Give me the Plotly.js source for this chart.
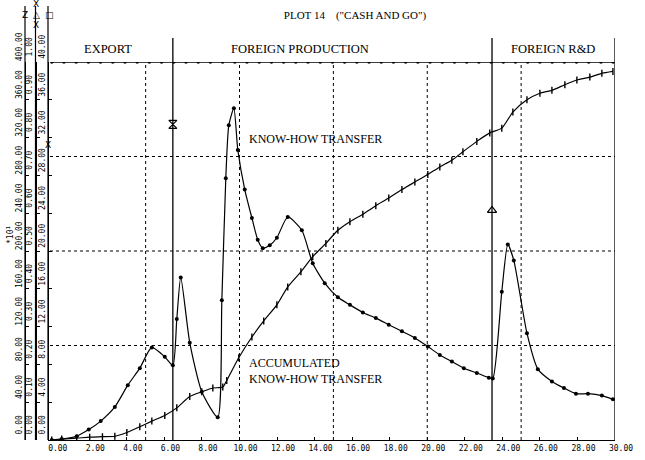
<!DOCTYPE html>
<html>
<head>
<meta charset="utf-8">
<script src="https://cdn.plot.ly/plotly-3.0.1.min.js"></script>
<style>html,body{margin:0;padding:0;background:#fff;}#chart{width:645px;height:460px;}</style>
</head>
<body>
<div id="chart"></div>
<script>
// ---- data ----
// Know-how transfer (left 0..400 scale)
const knowX = [0,0.53,1.33,1.97,2.61,3.36,4.05,4.69,5.33,6.02,6.45,6.66,6.87,7.35,7.99,8.84,9.06,9.27,9.43,9.70,9.91,10.28,10.66,10.97,11.24,11.61,11.99,12.57,13.32,13.9,14.54,15.24,15.88,16.57,17.26,17.95,18.65,19.34,20.03,20.67,21.31,21.95,22.64,23.28,23.49,23.97,24.29,24.61,25.31,25.89,26.64,27.28,27.92,28.56,29.30,29.89];
const knowY = [0,1,4,11,20,35,58,76,98,88,79,128,172,103,51,24,148,277,333,351,307,265,235,212,203,206,214,236,222,187,166,151,143,135,129,122,115,108,99,90,83,76,71,66,65,157,207,190,113,75,62,55,49,49,47,43];
// Accumulated know-how transfer (0..40 scale, x10^1)
const accX = [0,0.53,1.33,2.02,2.7,3.36,4.0,4.69,5.33,6.02,6.66,7.35,7.99,8.58,9.11,9.32,9.96,10.66,11.29,11.99,12.57,13.27,13.9,14.6,15.24,15.88,16.57,17.26,17.95,18.65,19.34,20.03,20.67,21.31,21.9,22.64,23.33,23.97,24.56,25.31,26.0,26.64,27.33,27.97,28.66,29.3,29.89];
const accY = [0,0.1,0.2,0.3,0.35,0.4,0.8,1.4,2.0,2.6,3.4,4.6,5.1,5.5,5.6,6.3,8.7,10.9,12.6,14.3,16.2,17.8,19.4,20.8,22.2,23.1,23.9,24.8,25.6,26.5,27.3,28.1,28.9,29.6,30.5,31.6,32.5,33.0,34.7,36.0,36.7,37.0,37.6,38.1,38.4,38.8,39.0];
// Constant top series (0..1 scale)
const topX = [0,0.65,1.3,1.95,2.6,3.25,3.9,4.55,5.2,5.85,6.5,7.15,7.8,8.45,9.1,9.75,10.4,11.05,11.7,12.35,13.0,13.65,14.3,14.95,15.6,16.25,16.9,17.55,18.2,18.85,19.5,20.15,20.8,21.45,22.1,22.75,23.4,24.05,24.7,25.35,26.0,26.65,27.3,27.95,28.6,29.25,29.9];
const topY = topX.map(() => 1.0);
// Event markers (0..400 scale)
const eventX = [6.45, 23.45];
const eventY = [334, 243];
// Phases
const phaseNames = ["EXPORT", "FOREIGN PRODUCTION", "FOREIGN R&D"];
const phaseCenters = [3.0, 13.2, 26.7];
const phaseBounds = [6.45, 23.45, 30];
// Grid positions
const gridX = [5, 10, 15, 20, 25];
const gridY = [100, 200, 300];

const PW = 615; // paper width in px (margin l=0, r=30)
const px = v => v / PW;
const py = v => (440 - v) / 378;

const tickFont = {family: "DejaVu Sans Mono", size: 8, color: "#000"};
const serif = "Liberation Serif";

const traces = [
  {x: topX, y: topY, yaxis: "y2", mode: "lines+markers", line: {color: "#000", width: 1.6},
   marker: {symbol: "circle", size: 3.5, color: "#000"}, hoverinfo: "skip"},
  {x: accX, y: accY, yaxis: "y", mode: "lines+markers", line: {color: "#000", width: 1.2, shape: "spline", smoothing: 0.6},
   marker: {symbol: "line-ns-open", size: 5, line: {color: "#000", width: 1.4}}},
  {x: knowX, y: knowY, yaxis: "y3", mode: "lines+markers", line: {color: "#000", width: 1.2, shape: "spline", smoothing: 0.6},
   marker: {symbol: "circle", size: 4, color: "#000"}},
  {x: eventX, y: eventY, yaxis: "y3", mode: "markers",
   marker: {symbol: ["hourglass-open", "triangle-up-open"], size: 8, line: {color: "#000", width: 1.2}, color: "#000"}}
];

const shapes = [];
gridX.forEach(g => shapes.push({type: "line", xref: "x", yref: "paper", x0: g, x1: g, y0: 0, y1: 1,
  line: {color: "#000", width: 1, dash: "dot"}}));
gridY.forEach(g => shapes.push({type: "line", xref: "paper", yref: "y3", x0: px(50), x1: px(615), y0: g, y1: g,
  line: {color: "#000", width: 1, dash: "dot"}}));
phaseBounds.forEach(b => shapes.push({type: "line", xref: "x", yref: "paper", x0: b, x1: b, y0: 0, y1: py(38),
  line: {color: "#000", width: 1.3}}));
[25, 35.5, 48].forEach(a => shapes.push({type: "line", xref: "paper", yref: "paper", x0: px(a), x1: px(a), y0: 0, y1: py(6),
  line: {color: "#000", width: 1.2}}));

const annotations = [];
phaseNames.forEach((n, i) => annotations.push({xref: "x", yref: "paper", x: phaseCenters[i], y: py(49),
  xanchor: "center", yanchor: "middle", text: n,
  showarrow: false, font: {family: serif, size: 12.5, color: "#000"}}));
annotations.push({xref: "paper", yref: "paper", x: px(247), y: py(139), text: "KNOW-HOW TRANSFER",
  xanchor: "left", yanchor: "middle",
  showarrow: false, font: {family: serif, size: 12, color: "#000"}});
annotations.push({xref: "paper", yref: "paper", x: px(247), y: py(371), text: "ACCUMULATED<br>KNOW-HOW TRANSFER",
  xanchor: "left", yanchor: "middle", align: "left",
  showarrow: false, font: {family: serif, size: 12, color: "#000"}});
annotations.push({xref: "paper", yref: "paper", x: px(10), y: py(235), text: "*10<sup>1</sup>", textangle: -90,
  xanchor: "center", yanchor: "middle",
  showarrow: false, font: {family: "DejaVu Sans Mono", size: 8, color: "#000"}});
[["Z", 25, 15], ["X", 36, 4], ["△", 36, 15], ["X", 36, 25], ["□", 49, 15], ["X", 48, 145]].forEach(s =>
  annotations.push({xref: "paper", yref: "paper", x: px(s[1]), y: py(s[2]), text: s[0], showarrow: false,
    xanchor: "center", yanchor: "middle",
    font: {family: "DejaVu Sans", size: 9, color: "#000"}}));

const yCommon = {showgrid: false, zeroline: false, showline: true, linecolor: "#000", linewidth: 1.2,
  ticks: "inside", ticklen: 3, tickcolor: "#000", tickangle: -90, tickfont: tickFont, tickformat: ".2f", ticklabelshift: -14};

const layout = {
  width: 645, height: 460,
  margin: {l: 0, r: 30, t: 62, b: 20},
  paper_bgcolor: "#fff", plot_bgcolor: "#fff",
  showlegend: false,
  title: {text: "PLOT 14&nbsp;&nbsp;&nbsp;&nbsp;(\"CASH AND GO\")", x: 355 / 645, xanchor: "center", y: 1 - 15 / 460, yanchor: "middle",
    font: {family: serif, size: 11, color: "#000"}},
  xaxis: {domain: [px(48), 1], range: [-0.2, 30], dtick: 2, tick0: 0, tickformat: ".2f", showgrid: false, zeroline: false,
    showline: true, linecolor: "#000", linewidth: 1.2, ticks: "inside", ticklen: 3, tickcolor: "#000",
    tickfont: tickFont, ticklabelshift: 6, tickangle: 0},
  yaxis: Object.assign({}, yCommon, {range: [0, 40], dtick: 4, anchor: "free", position: px(48)}),
  yaxis2: Object.assign({}, yCommon, {range: [0, 1], dtick: 0.1, overlaying: "y", anchor: "free", position: px(35.5), side: "left"}),
  yaxis3: Object.assign({}, yCommon, {range: [0, 400], dtick: 40, overlaying: "y", anchor: "free", position: px(25), side: "left"}),
  shapes: shapes,
  annotations: annotations
};

Plotly.newPlot("chart", traces, layout, {staticPlot: true, displayModeBar: false});
</script>
</body>
</html>
